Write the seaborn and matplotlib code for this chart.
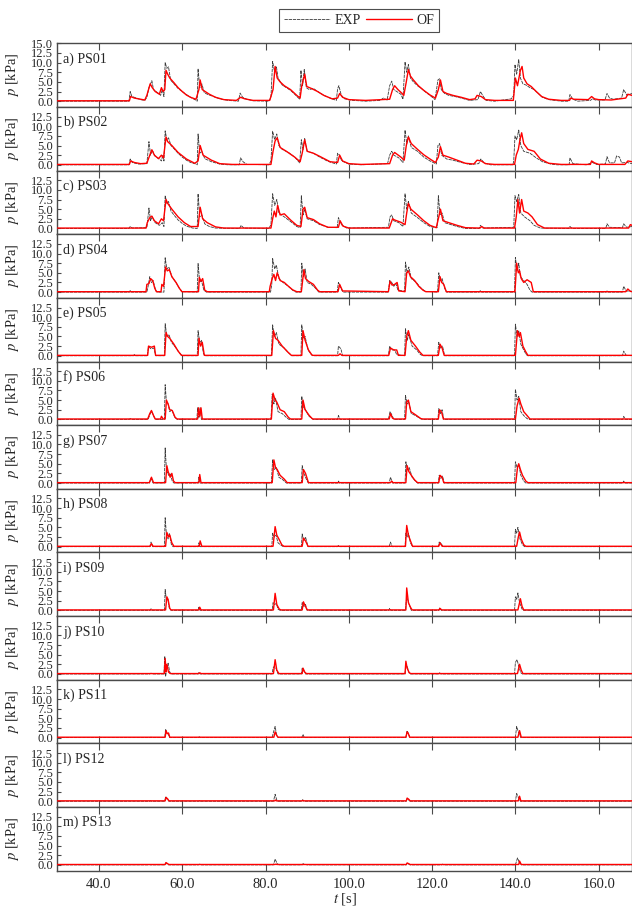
import matplotlib
matplotlib.use("Agg")
import matplotlib.pyplot as plt
from matplotlib.lines import Line2D
import pandas as pd
import seaborn as sns

# Pressure-sensor records, (time [s], pressure [kPa]) breakpoints for each sensor.
EXP_PS01 = [(30,0),(47.2,0),(47.5,2.5),(47.9,1.2),(48.5,1.0),(50,0.4),(51,0.2),(51.5,1.0),(52.0,3.5),(52.7,5.3),(53.1,3.0),(54.3,2.0),(54.8,1.5),(55.2,3.0),(55.6,1.2),(55.9,10.0),(56.3,8.5),(56.7,8.9),(57.2,5.5),(58,4.5),(59,3.3),(60,2.5),(61,1.7),(62,1.0),(63.2,0.3),(63.6,0),(63.8,8.4),(64.2,3.5),(64.7,4.5),(65.3,2.2),(66,1.8),(67.5,1.2),(69,0.6),(71,0.2),(73.5,0),(73.9,2.1),(74.5,1.0),(75.5,0.5),(77,0.1),(80.8,0),(81.3,1.0),(81.7,10.3),(82.1,8.0),(82.6,9.0),(83.0,6.0),(84,4.2),(85,3.5),(86,2.8),(87,1.8),(88.2,0.5),(88.5,8.0),(88.9,4.0),(89.3,8.2),(89.8,3.5),(90.5,3.0),(91.5,3.3),(92.5,2.5),(94,1.5),(95.5,0.8),(97,0.2),(97.3,3.2),(97.6,4.0),(98.2,1.5),(99,0.6),(101,0.2),(104,0),(107.5,0.2),(108.3,0.8),(109.2,0.3),(109.8,4.0),(110.3,5.2),(110.8,3.0),(111.5,2.5),(112.5,1.8),(113.0,0.5),(113.5,10.2),(113.9,7.5),(114.3,9.5),(114.8,6.0),(115.5,5.0),(116.5,4.0),(117.5,3.2),(118.5,2.3),(119.5,1.5),(120.7,0.4),(121.4,5.5),(121.8,5.8),(122.2,3.0),(123,2.0),(124,1.5),(125.5,1.2),(127,0.8),(129,0.2),(131,0.4),(131.6,2.5),(132.3,1.2),(133,0.2),(135,0),(139.0,0.6),(139.6,1.5),(139.9,9.5),(140.3,7.0),(140.8,10.8),(141.2,6.0),(141.8,4.5),(142.5,4.2),(143.5,3.5),(144.5,3.0),(145.5,2.0),(146.5,1.0),(148,0.4),(151,0),(152.8,0),(153.1,1.7),(153.8,0.5),(155,0),(158,0.2),(158.5,0.6),(159.2,0.3),(161.5,0.3),(162,2.0),(162.6,0.8),(163.5,0.5),(165.5,0.8),(166,3.0),(166.8,1.5),(168,2.0)]
OF_PS01 = [(30,0.1),(47.3,0.1),(47.6,1.2),(48.5,0.8),(50,0.5),(51,0.3),(51.5,1.5),(52.3,4.5),(52.8,3.5),(53.5,2.5),(54.5,1.8),(55.0,3.5),(55.4,2.5),(55.8,3.0),(56.1,8.0),(56.5,7.0),(57,6.0),(58,4.8),(59,3.5),(60,2.5),(61,1.6),(62,1.0),(63.3,0.5),(64,3.0),(64.3,5.5),(64.8,3.0),(65.5,2.5),(66.5,1.8),(68,1.0),(70,0.4),(73,0.2),(74.0,1.0),(75,0.6),(77,0.2),(81,0.2),(81.8,3.0),(82.3,9.0),(82.8,6.0),(83.5,5.0),(84.5,4.0),(86,3.0),(87.5,1.5),(88.3,0.8),(88.7,4.0),(89.4,7.0),(89.9,3.8),(91,3.3),(92.5,2.5),(94,1.5),(96,0.6),(97.3,0.8),(97.8,2.0),(98.5,1.0),(100,0.4),(104,0.2),(109.8,0.5),(110.5,3.0),(111.0,4.0),(111.8,3.0),(112.6,2.2),(113.2,1.5),(113.8,5.0),(114.3,8.2),(114.8,6.5),(115.5,5.5),(116.7,4.0),(118,2.8),(119.5,1.6),(120.8,0.8),(121.5,3.0),(122,5.5),(122.6,2.5),(123.5,2.0),(125,1.5),(127,1.0),(129,0.4),(130.3,0.6),(130.8,1.5),(131.8,1.2),(132.8,0.4),(135,0.2),(139.5,0.2),(140.0,6.0),(140.5,4.0),(141.2,8.0),(141.6,9.0),(142,6.0),(142.8,4.5),(143.8,3.8),(145,2.5),(146.3,1.2),(148,0.5),(151,0.2),(153,0.2),(153.3,0.8),(154,0.5),(157.5,0.4),(158.3,1.2),(159,0.6),(160,0.4),(163,0.3),(166.5,0.8),(167,1.8),(168,1.5)]

EXP_PS02 = [(30,0),(47.2,0),(47.5,1.5),(48,0.6),(49.5,0.2),(51.5,0.3),(52.0,6.0),(52.4,2.5),(52.8,3.8),(53.5,2.2),(54.5,1.5),(55.0,1.0),(55.3,2.5),(55.6,1.0),(55.9,8.8),(56.3,6.5),(56.7,7.0),(57.3,5.0),(58,4.2),(59,3.0),(60,2.0),(61,1.2),(62,0.6),(63.3,0.2),(63.6,0),(63.8,8.0),(64.2,3.0),(64.7,3.5),(65.4,1.6),(67,0.8),(69,0.2),(71,0),(73.7,0),(74.0,1.8),(74.6,0.8),(75.5,0.1),(80.8,0),(81.3,1.0),(81.7,8.7),(82.2,6.5),(82.7,8.0),(83.2,5.0),(84,4.0),(85.5,3.2),(87,2.0),(88.2,0.5),(88.6,6.5),(89.0,4.0),(89.4,6.8),(90,3.5),(91.5,3.0),(93,2.0),(95,0.9),(97,0.2),(97.3,3.0),(97.7,2.6),(98.3,1.0),(100,0.2),(103,0),(109.3,0.3),(109.8,2.5),(110.3,3.5),(110.8,2.5),(112,1.8),(113.0,0.6),(113.5,9.0),(113.9,5.5),(114.3,7.5),(115,4.5),(116.5,3.5),(118,2.0),(119.5,1.0),(121,0.2),(121.4,5.0),(121.8,5.5),(122.3,2.5),(123.5,1.5),(125,1.2),(127,0.6),(129,0.1),(131.2,0.3),(131.7,1.5),(132.5,0.5),(134,0),(139.4,0),(139.6,1.0),(139.9,7.5),(140.3,6.5),(140.8,9.0),(141.3,5.0),(142,3.5),(143.5,3.0),(145,1.8),(146.5,0.8),(148.5,0.2),(150,0),(152.9,0),(153.1,1.8),(153.8,0.3),(157,0),(158.5,0.6),(159.5,0.1),(161.6,0.2),(162,2.1),(162.6,0.5),(163.8,0.5),(164.3,2.3),(165,2.0),(165.5,0.5),(166.8,0.6),(168,0.3)]
OF_PS02 = [(30,0.1),(47.3,0.1),(47.6,1.0),(48.5,0.6),(50,0.3),(51.5,0.4),(52.2,2.5),(52.7,3.9),(53.3,2.5),(54.3,1.6),(55.0,2.5),(55.5,1.8),(56.1,7.2),(56.5,6.0),(57.5,5.0),(59,3.2),(61,1.5),(63,0.4),(63.8,1.0),(64.3,5.0),(65,2.5),(67,1.2),(69,0.3),(72,0.1),(81.3,0.1),(81.8,3.5),(82.3,6.2),(82.8,7.0),(83.5,4.5),(85,3.5),(87,2.0),(88.3,0.8),(88.8,3.0),(89.4,6.5),(90,3.5),(91.5,3.0),(93,2.2),(95.5,0.8),(97.3,0.6),(97.8,2.5),(98.5,1.0),(100,0.3),(103,0.1),(109.8,0.3),(110.5,2.5),(111,3.2),(112.5,2.0),(113.3,1.2),(113.8,5.0),(114.3,7.2),(115,5.5),(116.5,4.0),(118,2.6),(119.5,1.5),(120.8,0.6),(121.5,2.0),(122,4.7),(122.6,2.5),(124,2.0),(126,1.2),(128,0.4),(130,0.2),(130.8,1.2),(131.8,1.0),(132.8,0.3),(135,0.1),(139.8,0.1),(140.2,2.5),(140.7,4.0),(141.1,6.5),(141.5,8.3),(142,5.5),(143,4.0),(144.5,3.5),(146,1.5),(148,0.4),(151,0.1),(158,0.1),(158.3,1.0),(159,0.5),(160,0.1),(166.3,0.1),(167,1.0),(168,0.8)]

EXP_PS03 = [(30,0),(47.2,0),(47.5,0.5),(48,0.1),(51.5,0.2),(52.0,5.3),(52.4,2.0),(52.8,3.0),(53.5,1.5),(54.5,0.8),(55.2,1.5),(55.6,0.5),(55.9,8.5),(56.3,6.5),(56.7,7.0),(57.3,4.5),(58,3.5),(59,2.2),(60,1.3),(61,0.6),(62.5,0.1),(63.6,0),(63.8,9.0),(64.2,3.0),(64.7,3.5),(65.4,1.2),(66.5,0.5),(68,0.1),(73.8,0),(74.1,0.8),(74.8,0.1),(80.8,0),(81.3,1.0),(81.7,9.0),(82.2,6.0),(82.7,7.5),(83.2,4.0),(84.5,3.0),(86,1.8),(87.5,0.5),(88.3,0.2),(88.6,8.5),(89.0,3.5),(89.4,5.0),(90,2.5),(91.5,2.0),(93,1.0),(95,0.3),(97.2,0.2),(97.5,2.8),(98.2,1.0),(99.5,0.1),(109.5,0.3),(109.9,3.0),(110.3,3.5),(110.8,2.0),(112,1.5),(113.0,0.5),(113.5,9.0),(113.9,5.0),(114.3,7.0),(115,4.0),(116.5,2.8),(118,1.5),(119.5,0.5),(121.2,0.2),(121.5,8.5),(121.9,3.5),(122.4,4.0),(123,1.5),(124.5,1.0),(126,0.5),(128,0),(131.3,0),(131.6,0.8),(132.2,0.1),(139.6,0.3),(139.9,8.5),(140.3,7.0),(140.8,8.8),(141.3,4.0),(142.2,3.0),(143.5,2.0),(144.5,0.8),(146,0.1),(152.8,0),(153.1,0.5),(153.6,0),(161.7,0),(162,1.2),(162.6,0.3),(165.7,0.2),(166,1.2),(166.7,0.3),(168,0.5)]
OF_PS03 = [(30,0.1),(51.3,0.1),(51.6,1.5),(52.2,2.8),(52.7,3.2),(53.3,2.0),(54.3,1.2),(55.0,2.5),(55.5,2.0),(56.1,7.5),(56.5,6.5),(57.5,5.0),(59,3.0),(60.5,1.5),(62,0.5),(63.8,0.5),(64.3,5.5),(64.9,2.5),(66,1.5),(68,0.4),(70,0.1),(81.3,0.1),(81.7,2.5),(82.1,4.5),(82.5,3.0),(82.9,6.0),(83.5,3.5),(84.5,3.8),(86,2.2),(87.5,0.8),(88.5,0.5),(89.0,5.0),(89.4,5.5),(90,2.8),(91.5,2.3),(93,1.2),(95,0.3),(97.5,0.3),(97.9,2.0),(98.6,0.6),(100,0.1),(109.7,0.1),(110.5,2.5),(111,2.2),(112.5,1.6),(113.5,1.0),(113.9,4.0),(114.3,6.5),(114.9,5.0),(116.5,3.5),(118,2.0),(119.5,0.8),(121,0.2),(121.6,3.0),(122,5.0),(122.6,2.0),(124,1.5),(126,0.8),(128,0.2),(131.5,0.1),(131.9,0.5),(132.5,0.1),(139.8,0.1),(140.2,3.0),(140.6,7.5),(141.0,4.0),(141.5,7.5),(142,4.5),(143,4.0),(144,3.0),(145.3,1.0),(147,0.1),(167.2,0.1),(167.6,1.0),(168,0.8)]

EXP_PS04 = [(30,0),(47.3,0),(47.5,0.4),(47.8,0),(51.5,0),(51.8,1.5),(52.2,4.0),(52.6,2.5),(53.0,3.0),(53.6,0.5),(54,0),(55.6,0),(55.9,8.9),(56.3,6.0),(56.8,6.5),(57.5,4.0),(58.5,2.5),(59.3,1.0),(60,0.1),(63.6,0),(63.8,7.4),(64.2,2.5),(64.6,3.0),(65.2,0.5),(65.8,0),(73.8,0),(74.0,0.3),(74.3,0),(81.2,0),(81.5,2.0),(81.7,8.7),(82.2,6.0),(82.6,7.0),(83.2,3.5),(84.2,2.5),(85.5,1.5),(86.5,0.5),(87.3,0),(88.5,0),(88.7,7.5),(89.1,4.0),(89.5,6.0),(90,2.5),(91,2.0),(92,1.0),(92.8,0),(97.2,0),(97.5,2.5),(98.1,1.0),(98.6,0),(109.5,0),(109.8,3.0),(110.3,2.5),(110.8,1.5),(111.3,2.2),(111.8,0.5),(113.4,0.2),(113.6,7.8),(114.0,5.0),(114.4,6.5),(115.0,3.5),(116.2,2.5),(117.2,1.2),(118.3,0.2),(121.3,0),(121.6,5.0),(122.0,3.0),(122.4,3.5),(123.0,1.0),(123.5,0),(131.3,0),(131.6,0.4),(131.9,0),(139.8,0),(140.0,9.0),(140.4,5.5),(140.8,7.5),(141.2,4.0),(142.0,3.0),(142.8,2.0),(143.5,0.5),(144,0),(161.8,0),(162.0,0.3),(162.3,0),(165.7,0),(166.0,1.5),(166.6,0.3),(168,0.2)]
OF_PS04 = [(30,0.1),(51.3,0.1),(51.5,2.0),(52.0,2.2),(52.4,3.5),(52.9,3.0),(53.4,1.0),(53.8,0.1),(54.9,0.1),(55.1,2.0),(55.5,1.5),(56.0,6.5),(56.4,5.5),(56.9,5.8),(57.5,4.0),(58.5,2.5),(59.3,1.0),(59.9,0.1),(63.9,0.1),(64.1,3.8),(64.5,2.8),(64.9,3.5),(65.4,0.5),(66,0.1),(80.9,0.1),(81.1,1.5),(81.6,3.5),(82.0,4.6),(82.4,3.0),(82.8,5.0),(83.5,3.0),(84.5,2.5),(85.5,1.5),(86.5,0.6),(87.5,0.1),(88.6,0.1),(89.2,5.8),(89.6,3.5),(90.3,2.8),(91.5,2.0),(92.5,0.5),(93,0.1),(97.4,0.1),(97.8,2.0),(98.5,0.3),(109.5,0.1),(109.9,2.8),(110.4,1.8),(111.0,2.0),(111.6,2.5),(112.0,0.3),(113.5,0.1),(113.9,5.0),(114.3,5.5),(114.8,4.0),(115.8,3.0),(116.8,1.5),(117.8,0.5),(118.5,0.1),(121.5,0.1),(121.9,4.0),(122.3,2.5),(122.8,2.0),(123.4,0.1),(139.9,0.1),(140.3,7.5),(140.7,5.0),(141.0,5.5),(141.4,3.5),(142.0,2.5),(142.8,3.2),(143.8,2.5),(144.3,0.1),(166.5,0.1),(167,0.8),(167.6,0.2),(168,0.1)]

EXP_PS05 = [(30,0),(48.3,0),(48.5,0.3),(48.8,0),(51.6,0),(51.9,2.3),(52.5,1.8),(53.2,2.0),(53.6,0),(55.7,0),(55.9,8.3),(56.3,5.0),(56.8,5.5),(57.4,3.5),(58.5,2.0),(59.3,0.8),(60,0),(63.6,0),(63.8,6.5),(64.2,3.5),(64.6,4.0),(65.1,0.5),(65.6,0),(81.4,0),(81.7,8.0),(82.1,5.0),(82.6,6.0),(83.2,3.0),(84.5,2.0),(85.5,0.8),(86.3,0),(88.5,0),(88.7,8.0),(89.1,4.5),(89.5,5.0),(90.2,1.5),(91.0,0.3),(91.5,0),(97.3,0),(97.5,2.5),(98.1,1.8),(98.5,0),(109.5,0),(109.8,2.5),(110.3,1.5),(111.0,1.5),(111.5,0.3),(113.4,0),(113.6,7.0),(114.0,4.0),(114.4,5.5),(115.2,2.5),(116.3,1.5),(117.2,0.3),(117.8,0),(121.3,0),(121.6,3.5),(122.0,2.0),(122.5,2.5),(123.0,0),(139.8,0),(140.0,8.2),(140.4,5.0),(140.8,6.5),(141.3,3.0),(142.0,1.5),(142.6,0.3),(143,0),(165.7,0),(166.0,1.2),(166.6,0.1),(168,0)]
OF_PS05 = [(30,0.1),(51.7,0.1),(51.9,2.5),(52.6,2.2),(53.3,2.5),(53.6,0.1),(55.8,0.1),(56.1,6.0),(56.5,5.0),(57,4.5),(58,3.0),(59,1.2),(59.8,0.1),(63.8,0.1),(64.0,4.5),(64.4,2.5),(64.8,3.5),(65.3,0.1),(81.5,0.1),(81.9,6.5),(82.4,4.5),(83,4.0),(84,2.5),(85.3,1.0),(86.2,0.1),(88.7,0.1),(89.0,6.5),(89.5,4.0),(90.3,1.5),(91.2,0.1),(97.5,0.1),(97.9,0.5),(98.3,0.1),(109.6,0.1),(110.0,2.0),(110.8,1.5),(111.5,1.5),(111.9,0.1),(113.5,0.1),(113.9,5.0),(114.3,6.5),(114.9,4.0),(116,2.5),(117,1.0),(117.8,0.1),(121.5,0.1),(121.9,3.0),(122.4,2.0),(122.9,0.1),(140.0,0.1),(140.5,6.5),(140.9,5.0),(141.2,6.0),(141.8,2.5),(142.5,1.0),(143,0.1),(168,0.1)]

EXP_PS06 = [(30,0),(47.3,0),(47.5,0.2),(47.8,0),(51.8,0),(52.3,1.5),(52.7,2.0),(53.3,0.5),(53.7,0),(55.7,0),(55.9,9.0),(56.2,4.5),(56.6,4.0),(57.0,2.0),(57.5,2.5),(58.2,0.5),(58.8,0),(63.5,0),(63.7,3.0),(64.0,0.5),(64.3,3.0),(64.6,0),(81.3,0),(81.6,6.5),(82.0,4.0),(82.4,5.5),(83.0,2.0),(84.0,1.5),(85,0.5),(85.6,0),(88.5,0),(88.7,6.0),(89.1,3.0),(89.6,2.5),(90.3,1.0),(91.0,0.3),(91.5,0),(97.3,0),(97.5,1.0),(97.9,0),(109.5,0),(109.9,2.0),(110.4,1.0),(110.8,0),(113.4,0),(113.6,6.2),(114.0,4.0),(114.4,4.5),(115.0,1.5),(116.0,1.0),(117,0.3),(117.6,0),(121.4,0),(121.6,2.8),(122.0,1.5),(122.4,2.5),(122.8,0),(139.8,0),(140.0,7.8),(140.4,5.0),(140.8,6.0),(141.3,2.0),(142.0,1.0),(142.8,0.2),(143.3,0),(165.8,0),(166.0,0.8),(166.4,0),(168,0)]
OF_PS06 = [(30,0.1),(51.7,0.1),(52.2,1.5),(52.6,2.3),(53.1,1.0),(53.5,0.1),(54.8,0.1),(55.0,0.8),(55.4,0.1),(55.9,0.1),(56.2,5.0),(56.6,4.0),(57.0,2.5),(57.6,2.3),(58.3,0.5),(58.8,0.1),(63.7,0.1),(63.9,3.0),(64.2,0.8),(64.5,3.0),(64.8,0.1),(81.4,0.1),(81.8,6.8),(82.3,5.0),(82.7,4.5),(83.5,2.5),(84.5,2.0),(85.5,0.5),(86.0,0.1),(88.7,0.1),(89.0,5.0),(89.5,2.5),(90.5,1.0),(91.3,0.1),(109.7,0.1),(110.0,1.5),(110.5,0.3),(110.9,0.1),(113.6,0.1),(113.9,4.5),(114.3,5.0),(114.9,2.0),(116.0,1.2),(117.3,0.2),(117.8,0.1),(121.5,0.1),(121.8,2.5),(122.3,1.8),(122.7,0.1),(140.0,0.1),(140.4,3.5),(140.9,5.5),(141.3,4.0),(142.0,2.0),(142.8,1.0),(143.5,0.1),(168,0.1)]

EXP_PS07 = [(30,0),(52.1,0),(52.5,1.2),(53.0,0),(55.7,0),(55.9,9.1),(56.2,3.5),(56.7,2.0),(57.1,2.5),(57.6,0.5),(58,0),(63.8,0),(64.0,1.5),(64.3,0),(81.4,0),(81.7,6.0),(82.1,3.5),(82.6,4.0),(83.2,1.5),(84.2,0.8),(85,0),(88.6,0),(88.8,4.5),(89.2,2.5),(89.8,1.0),(90.3,0),(97.3,0),(97.5,0.5),(97.8,0),(109.7,0),(110.0,1.5),(110.5,0),(113.5,0),(113.7,5.5),(114.1,3.5),(114.5,4.0),(115.2,1.5),(116.0,0.5),(116.5,0),(121.5,0),(121.7,2.0),(122.1,1.2),(122.5,1.8),(122.9,0),(139.8,0),(140.0,5.5),(140.4,4.0),(140.8,4.8),(141.3,2.0),(142.0,0.5),(142.5,0),(165.8,0),(166.0,0.5),(166.3,0),(168,0)]
OF_PS07 = [(30,0.1),(52.1,0.1),(52.6,1.5),(53.1,0.1),(56.0,0.1),(56.3,4.5),(56.6,3.0),(57.1,1.5),(57.5,2.5),(57.9,0.5),(58.3,0.1),(64.0,0.1),(64.2,2.2),(64.5,0.1),(81.6,0.1),(82.0,6.0),(82.4,4.0),(82.8,3.5),(83.5,2.0),(84.5,1.0),(85.2,0.1),(88.8,0.1),(89.1,3.5),(89.6,2.5),(90.3,0.1),(110.0,0.1),(110.3,0.5),(110.6,0.1),(113.7,0.1),(114.0,4.5),(114.4,3.0),(115.0,2.0),(115.8,0.8),(116.5,0.1),(121.6,0.1),(121.9,2.0),(122.4,1.5),(122.8,0.1),(140.1,0.1),(140.5,4.0),(140.8,5.0),(141.2,3.5),(141.7,2.0),(142.5,0.5),(143,0.1),(168,0.1)]

EXP_PS08 = [(30,0),(52.2,0),(52.5,1.2),(52.9,0),(55.7,0),(55.9,7.5),(56.2,3.0),(56.6,2.0),(56.9,3.5),(57.4,0.5),(57.8,0),(63.8,0),(64.0,1.0),(64.3,0),(81.5,0),(81.7,3.5),(82.1,2.5),(82.5,3.0),(83.0,1.0),(83.8,0.3),(84.3,0),(88.6,0),(88.8,3.3),(89.2,1.5),(89.6,2.5),(90.2,0),(97.3,0),(97.5,0.3),(97.8,0),(109.7,0),(110.0,1.2),(110.4,0),(113.5,0),(113.7,3.5),(114.0,2.5),(114.3,3.5),(114.8,1.0),(115.3,0),(121.5,0),(121.7,1.2),(122.2,0.8),(122.6,0),(139.8,0),(140.0,4.5),(140.3,3.5),(140.6,5.0),(141.1,2.0),(141.7,0.5),(142.2,0),(168,0)]
OF_PS08 = [(30,0.1),(52.3,0.1),(52.6,0.8),(53.0,0.1),(56.0,0.1),(56.3,3.7),(56.7,2.5),(57.0,3.0),(57.5,1.0),(58.0,0.1),(64.1,0.1),(64.3,1.5),(64.7,0.1),(81.8,0.1),(82.3,5.2),(82.7,3.0),(83.2,2.0),(83.9,0.5),(84.4,0.1),(88.8,0.1),(89.1,2.2),(89.6,1.5),(90.2,0.1),(113.6,0.1),(113.9,5.5),(114.3,3.0),(114.8,1.5),(115.3,0.1),(121.6,0.1),(121.9,1.0),(122.4,0.1),(140.3,0.1),(140.7,2.5),(141.0,3.8),(141.4,2.0),(142.0,0.5),(142.5,0.1),(168,0.1)]

EXP_PS09 = [(30,0),(52.3,0),(52.5,0.4),(52.8,0),(55.7,0),(55.9,5.4),(56.2,2.5),(56.5,3.0),(56.9,0.5),(57.3,0),(63.8,0),(64.0,0.8),(64.3,0),(81.6,0),(81.8,2.0),(82.2,1.5),(82.6,1.8),(83.0,0.3),(83.5,0),(88.6,0),(88.8,2.0),(89.2,1.0),(89.6,1.5),(90.0,0),(109.6,0),(109.8,0.5),(110.1,0),(113.6,0),(113.8,2.5),(114.1,3.0),(114.5,1.5),(115.0,0),(121.6,0),(121.8,0.6),(122.2,0),(139.8,0),(140.0,3.5),(140.3,2.8),(140.6,4.5),(141.0,2.0),(141.6,0.3),(142.0,0),(168,0)]
OF_PS09 = [(30,0.1),(56.0,0.1),(56.3,3.5),(56.6,2.8),(57.0,0.5),(57.3,0.1),(64.0,0.1),(64.2,0.8),(64.5,0.1),(81.9,0.1),(82.3,4.4),(82.7,1.5),(83.3,0.3),(83.7,0.1),(88.8,0.1),(89.1,2.2),(89.5,1.2),(90.0,0.1),(113.7,0.1),(113.9,5.8),(114.3,2.0),(114.8,0.8),(115.2,0.1),(121.7,0.1),(121.9,0.5),(122.3,0.1),(140.6,0.1),(141.0,2.0),(141.2,3.0),(141.6,1.0),(142.0,0.1),(168,0.1)]

EXP_PS10 = [(30,0),(52.2,0),(52.5,0.2),(52.8,0),(55.6,0),(55.8,4.6),(56.0,-0.7),(56.3,1.5),(56.6,2.8),(57.0,0.5),(57.3,0),(63.8,0),(64.0,0.4),(64.3,0),(81.6,0),(81.8,1.5),(82.1,2.0),(82.5,1.5),(83.0,0),(88.6,0),(88.8,1.5),(89.2,0.8),(89.6,0),(113.5,0),(113.7,2.5),(114.0,2.0),(114.4,0.5),(114.8,0),(121.6,0),(121.8,0.3),(122.1,0),(139.8,0),(140.0,3.0),(140.4,3.7),(140.8,2.0),(141.3,0.3),(141.7,0),(168,0)]
OF_PS10 = [(30,0.1),(55.7,0.1),(55.9,4.0),(56.1,0.5),(56.3,2.5),(56.7,0.5),(57.1,0.1),(64.0,0.1),(64.2,0.3),(64.5,0.1),(81.9,0.1),(82.3,3.7),(82.7,1.0),(83.2,0.1),(88.8,0.1),(89.0,1.5),(89.4,0.5),(89.8,0.1),(113.5,0.1),(113.7,3.3),(114.0,1.5),(114.5,0.3),(114.9,0.1),(140.5,0.1),(141.0,2.5),(141.4,1.0),(141.8,0.1),(168,0.1)]

EXP_PS11 = [(30,0),(52.3,0),(52.5,0.1),(52.7,0),(55.8,0),(56.0,2.2),(56.3,1.2),(56.6,1.0),(57.0,0),(63.9,0),(64.1,0.2),(64.3,0),(81.6,0),(81.8,1.0),(82.3,2.9),(82.6,1.0),(83.0,0),(88.7,0),(89.0,0.8),(89.3,0),(113.7,0),(114.0,1.8),(114.4,0.8),(114.7,0),(121.7,0),(121.9,0.1),(122.1,0),(140.0,0),(140.3,2.9),(140.7,1.5),(141.3,0),(168,0)]
OF_PS11 = [(30,0.1),(55.9,0.1),(56.1,1.8),(56.4,1.0),(56.7,1.2),(57.0,0.1),(82.0,0.1),(82.3,1.5),(82.7,0.5),(83.0,0.1),(113.7,0.1),(114.0,1.5),(114.3,1.0),(114.6,0.1),(140.6,0.1),(141.0,1.8),(141.4,0.1),(168,0.1)]

EXP_PS12 = [(30,0),(52.2,0),(52.4,0.1),(52.6,0),(55.8,0),(56.0,1.2),(56.4,0.5),(56.8,0),(64.0,0),(64.2,0.2),(64.4,0),(81.9,0),(82.3,1.8),(82.7,0.3),(83.0,0),(88.7,0),(88.9,0.4),(89.2,0),(113.8,0),(114.0,0.8),(114.4,0.3),(114.7,0),(140.0,0),(140.3,2.0),(140.7,1.0),(141.2,0),(168,0)]
OF_PS12 = [(30,0.1),(55.9,0.1),(56.1,1.0),(56.5,0.6),(56.8,0.1),(82.2,0.1),(82.4,0.3),(82.6,0.1),(88.8,0.1),(89.0,0.2),(89.2,0.1),(113.8,0.1),(114.0,0.8),(114.4,0.5),(114.7,0.1),(140.7,0.1),(141.0,1.3),(141.3,0.1),(168,0.1)]

EXP_PS13 = [(30,0),(51.9,0),(52.1,0.1),(52.3,0),(55.8,0),(56.0,0.5),(56.4,0.2),(56.7,0),(63.9,0),(64.2,0.2),(64.6,0),(81.9,0),(82.3,1.5),(82.8,0.3),(83.3,0),(88.8,0),(89.0,0.3),(89.6,0.1),(90.0,0),(113.8,0),(114.0,0.4),(114.4,0.2),(114.7,0),(122.3,0),(122.5,0.2),(122.8,0),(140.0,0),(140.5,1.8),(141.0,0.5),(141.5,0),(168,0)]
OF_PS13 = [(30,0.1),(55.9,0.1),(56.1,0.6),(56.5,0.3),(56.8,0.1),(82.3,0.1),(82.5,0.2),(82.7,0.1),(113.8,0.1),(114.0,0.5),(114.4,0.3),(114.7,0.1),(140.8,0.1),(141.0,1.0),(141.4,0.1),(168,0.1)]

SENSORS = ["PS01", "PS02", "PS03", "PS04", "PS05", "PS06", "PS07",
           "PS08", "PS09", "PS10", "PS11", "PS12", "PS13"]
PANEL_LETTERS = list("abcdefghijklm")
EXP_SERIES = [EXP_PS01, EXP_PS02, EXP_PS03, EXP_PS04, EXP_PS05, EXP_PS06, EXP_PS07,
              EXP_PS08, EXP_PS09, EXP_PS10, EXP_PS11, EXP_PS12, EXP_PS13]
OF_SERIES = [OF_PS01, OF_PS02, OF_PS03, OF_PS04, OF_PS05, OF_PS06, OF_PS07,
             OF_PS08, OF_PS09, OF_PS10, OF_PS11, OF_PS12, OF_PS13]

X_TICKS = [40, 60, 80, 100, 120, 140, 160]
Y_TICKS_TOP = [0, 2.5, 5.0, 7.5, 10.0, 12.5, 15.0]
Y_TICKS = [0, 2.5, 5.0, 7.5, 10.0, 12.5]

sns.set_theme(style="ticks")
plt.rcParams["font.family"] = ["Liberation Serif", "DejaVu Serif"]
plt.rcParams["mathtext.fontset"] = "stix"

EXP_COLOR = "#3a3a3a"
OF_COLOR = "#ff0000"
SPINE_COLOR = "#4a4a4a"
EXP_DASH = (0, (4, 1))

fig, axes = plt.subplots(len(SENSORS), 1, sharex=True, figsize=(6.32, 9.06), dpi=100,
                         gridspec_kw=dict(left=0.0907, right=1.0, top=0.9522,
                                          bottom=0.0390, hspace=0.0))

for i, ax in enumerate(axes):
    exp = pd.DataFrame(EXP_SERIES[i], columns=["t", "p"])
    of = pd.DataFrame(OF_SERIES[i], columns=["t", "p"])
    sns.lineplot(data=exp, x="t", y="p", ax=ax, sort=False, estimator=None,
                 color=EXP_COLOR, lw=0.6, linestyle=EXP_DASH, zorder=2)
    sns.lineplot(data=of, x="t", y="p", ax=ax, sort=False, estimator=None,
                 color=OF_COLOR, lw=1.0, zorder=3)

    ax.set_xlim(30, 168)
    ax.set_ylim(-1.5, 15.0)
    ticks = Y_TICKS_TOP if i == 0 else Y_TICKS
    ax.set_yticks(ticks)
    ax.set_yticklabels([f"{v:.1f}" for v in ticks], fontsize=9)
    ax.set_xticks(X_TICKS)
    ax.tick_params(axis="x", direction="in", top=True, bottom=True, length=5,
                   width=0.8, color=SPINE_COLOR, labelsize=10.5, pad=5)
    ax.tick_params(axis="y", direction="in", left=True, right=False, length=3,
                   width=0.8, color=SPINE_COLOR, pad=3)
    for s in ax.spines.values():
        s.set_color(SPINE_COLOR)
        s.set_linewidth(1.0)

    ax.set_ylabel("$p$ [kPa]", fontsize=10.5, labelpad=2)
    ax.yaxis.set_label_coords(-0.064, 0.5)
    ax.set_xlabel("")
    ax.text(0.0105, 0.753, f"{PANEL_LETTERS[i]}) {SENSORS[i]}", transform=ax.transAxes,
            ha="left", va="center", fontsize=10)

axes[-1].set_xticklabels([f"{v:.1f}" for v in X_TICKS])
axes[-1].set_xlabel("$t$ [s]", fontsize=10.5, labelpad=0)

handles = [Line2D([], [], color=EXP_COLOR, lw=0.6, linestyle=EXP_DASH),
           Line2D([], [], color=OF_COLOR, lw=1.0)]
leg = fig.legend(handles, ["EXP", "OF"], loc="center", bbox_to_anchor=(0.568, 0.9775),
                 ncol=2, fontsize=10, frameon=True, fancybox=False, handlelength=3.3,
                 handletextpad=0.3, columnspacing=0.4, borderpad=0.35)
leg.get_frame().set_edgecolor("#222222")
leg.get_frame().set_linewidth(0.8)

fig.savefig("out.png", dpi=100)
